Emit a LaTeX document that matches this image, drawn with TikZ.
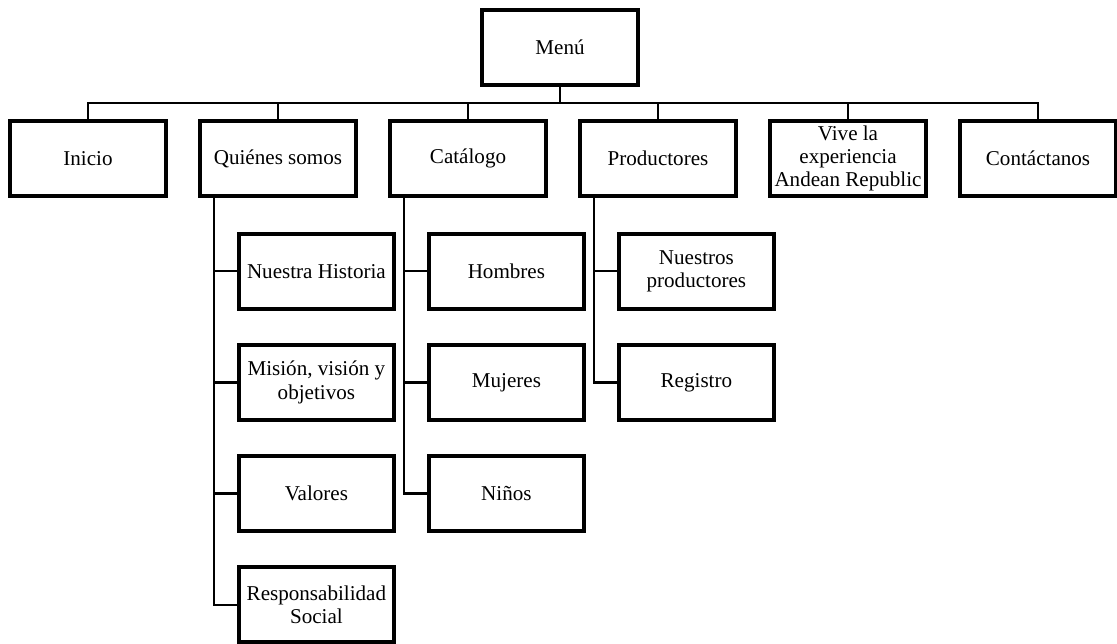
\documentclass[tikz,border=0pt]{standalone}
\usepackage{fontspec}
\setmainfont{Liberation Serif}
\usetikzlibrary{positioning}
\tikzset{
  menubox/.style={rectangle, draw=black, line width=2.8pt, fill=white,
    minimum width=3.88cm, minimum height=1.88cm, align=center, outer sep=0pt,
    inner xsep=1pt, inner ysep=1pt, font=\fontsize{15}{16.5}\selectfont},
  link/.style={draw=black, line width=1.8pt},
}
\begin{document}
\begin{tikzpicture}[node distance=0.87cm]
\useasboundingbox (0,0) rectangle (27.925,-16.075);

\node[menubox] (menu) at (14,-1.19) {Menú};

\node[menubox] (inicio) at (2.2,-3.96) {Inicio};
\node[menubox, right=of inicio] (quienes) {Quiénes somos};
\node[menubox, right=of quienes] (catalogo) {Catálogo};
\node[menubox, right=of catalogo] (productores) {Productores};
\node[menubox, right=of productores] (vive) {Vive la\\experiencia\\Andean Republic};
\node[menubox, right=of vive] (contacto) {Contáctanos};

% Quiénes somos
\node[menubox, below=0.94cm of quienes, xshift=0.96cm] (historia) {Nuestra Historia};
\node[menubox, below=0.9cm of historia] (mision) {Misión, visión y\\objetivos};
\node[menubox, below=0.9cm of mision] (valores) {Valores};
\node[menubox, below=0.9cm of valores] (social) {Responsabilidad\\Social};

% Catálogo
\node[menubox, below=0.94cm of catalogo, xshift=0.96cm] (hombres) {Hombres};
\node[menubox, below=0.9cm of hombres] (mujeres) {Mujeres};
\node[menubox, below=0.9cm of mujeres] (ninos) {Niños};

% Productores
\node[menubox, below=0.94cm of productores, xshift=0.96cm] (nuestros) {Nuestros\\productores};
\node[menubox, below=0.9cm of nuestros] (registro) {Registro};

% connectors
\foreach \c in {inicio,quienes,catalogo,productores,vive,contacto}
  \draw[link] (menu.south) -- ++(0,-0.44) -| (\c.north);
\foreach \c in {historia,mision,valores,social}
  \draw[link] ([xshift=0.34cm]quienes.south west) |- (\c.west);
\foreach \c in {hombres,mujeres,ninos}
  \draw[link] ([xshift=0.34cm]catalogo.south west) |- (\c.west);
\foreach \c in {nuestros,registro}
  \draw[link] ([xshift=0.34cm]productores.south west) |- (\c.west);

\end{tikzpicture}
\end{document}
